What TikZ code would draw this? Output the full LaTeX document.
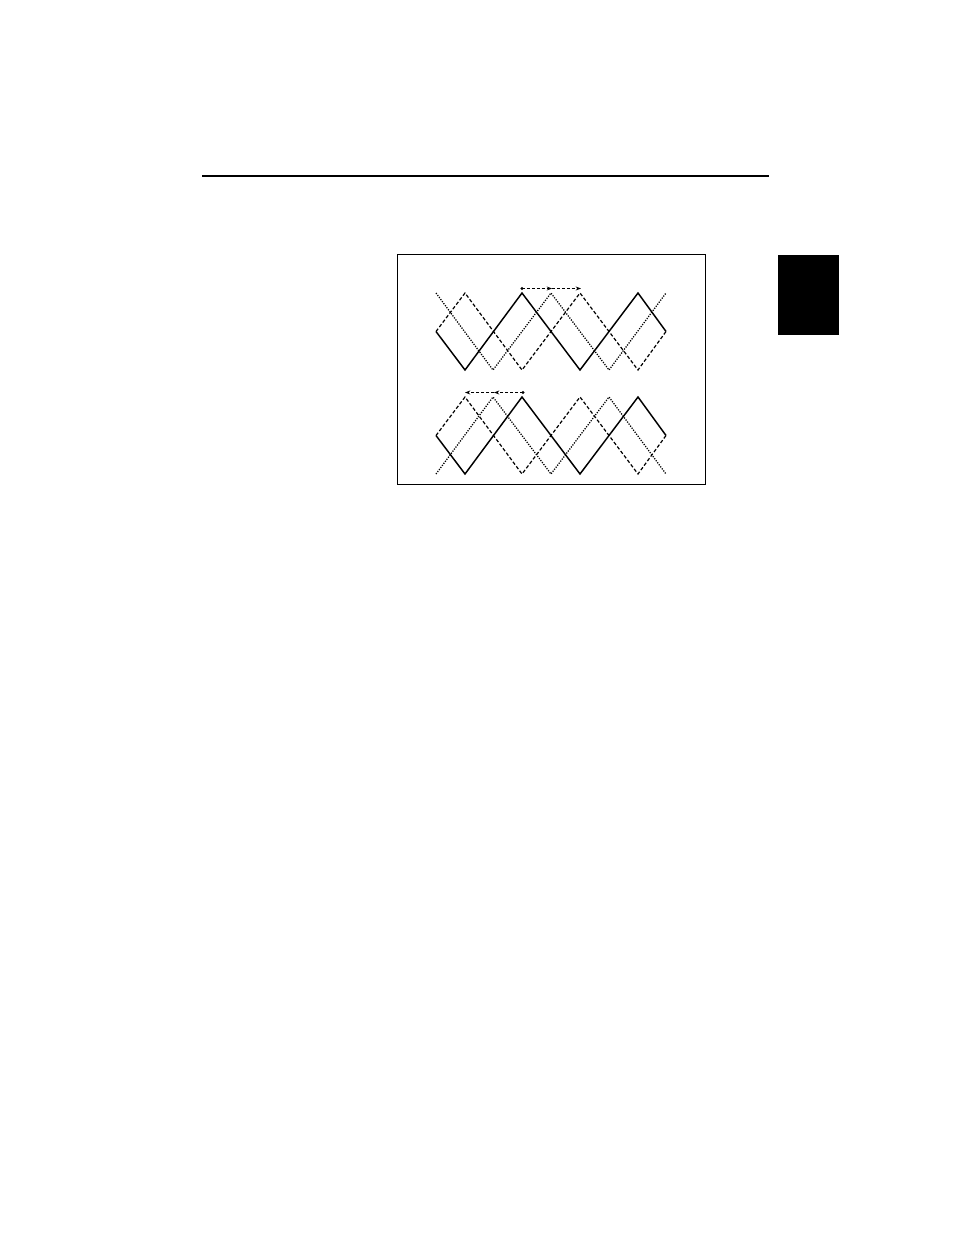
\documentclass[tikz,border=0pt]{standalone}
\usetikzlibrary{arrows.meta}
\begin{document}
\begin{tikzpicture}[x=0.75pt,y=-0.75pt,
  solidwave/.style={line width=1.1pt,line join=miter},
  dashwave/.style={line width=0.9pt,dash pattern=on 2.6pt off 1.6pt},
  dotwave/.style={line width=0.95pt,dash pattern=on 0.9pt off 1.0pt},
  shiftarrow/.style={line width=0.7pt,dash pattern=on 2.2pt off 1.5pt,-{Stealth[length=4pt,width=3pt]}},
  startdot/.style={circle,fill=black,inner sep=0pt,minimum size=2.6pt}]
\useasboundingbox (0,0) rectangle (954,1235);
% header rule
\draw[line width=1.6pt] (202,176) -- (769,176);
% black tab
\fill[black] (778,255) rectangle (839,335);
% frame
\draw[line width=1.3pt] (397.5,254.5) rectangle (705.5,484.5);
% top waveforms
\draw[solidwave] (436,331.5) -- (465,370) -- (522,293) -- (580,370) -- (638,293) -- (666,331.5);
\draw[dashwave] (436,331.5) -- (465,293) -- (522,370) -- (580,293) -- (638,370) -- (666,331.5);
\draw[dotwave] (436,293) -- (493,370) -- (551,293) -- (609,370) -- (666,293);
% top shift arrows
\node[startdot] (ta) at (522,288.5) {};
\coordinate (tb) at (552,288.5);
\coordinate (tc) at (581,288.5);
\draw[shiftarrow] (ta.center) -- (tb);
\draw[shiftarrow] (tb) -- (tc);
% bottom waveforms
\draw[solidwave] (436,435.5) -- (465,474) -- (522,397) -- (580,474) -- (638,397) -- (666,435.5);
\draw[dashwave] (436,435.5) -- (465,397) -- (522,474) -- (580,397) -- (638,474) -- (666,435.5);
\draw[dotwave] (436,474) -- (493,397) -- (551,474) -- (609,397) -- (666,474);
% bottom shift arrows
\node[startdot] (ba) at (523,392.5) {};
\coordinate (bb) at (494,392.5);
\coordinate (bc) at (465,392.5);
\draw[shiftarrow] (ba.center) -- (bb);
\draw[shiftarrow] (bb) -- (bc);
\end{tikzpicture}
\end{document}
